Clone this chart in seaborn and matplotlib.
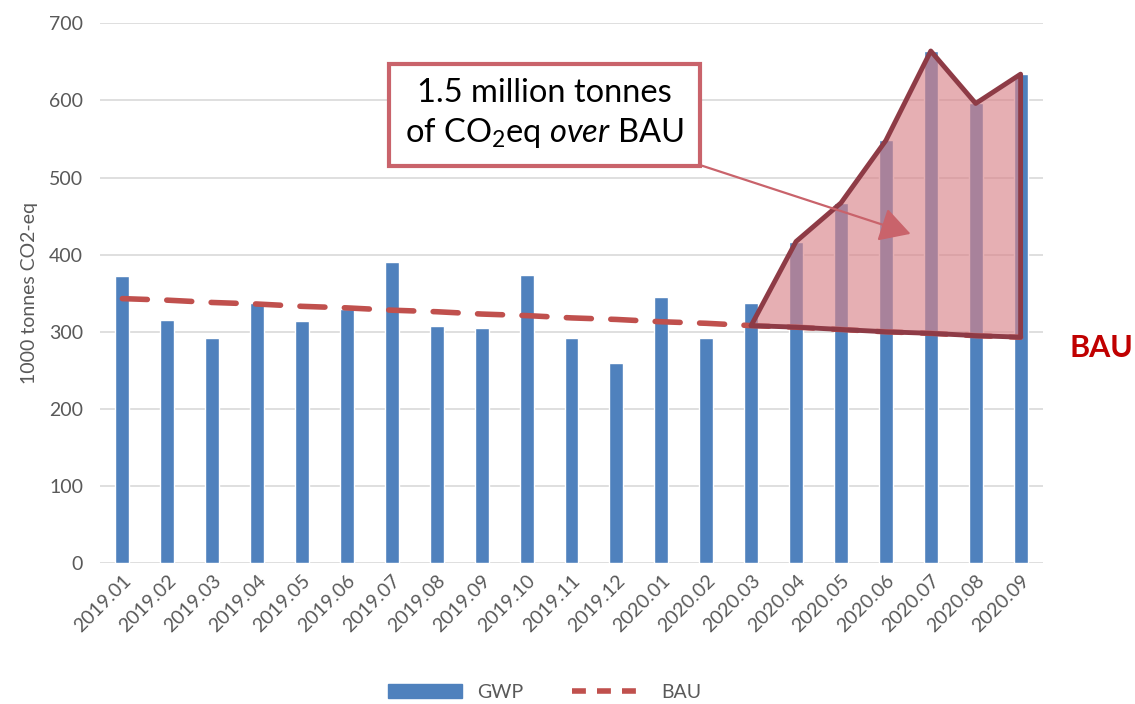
import numpy as np
import pandas as pd
import matplotlib
matplotlib.use("Agg")
import matplotlib.pyplot as plt
import seaborn as sns
from matplotlib.patches import Patch
from matplotlib.lines import Line2D

# --- data ---------------------------------------------------------------------
MONTHS = [
    "2019.01", "2019.02", "2019.03", "2019.04", "2019.05", "2019.06", "2019.07",
    "2019.08", "2019.09", "2019.10", "2019.11", "2019.12", "2020.01", "2020.02",
    "2020.03", "2020.04", "2020.05", "2020.06", "2020.07", "2020.08", "2020.09",
]
GWP = [372, 315, 292, 337, 314, 329, 390, 307, 305, 373, 292, 259, 345, 292,
       337, 417, 467, 548, 664, 596, 634]
BAU = [343, 341, 338, 336, 333, 331, 328, 326, 323, 321, 318, 316, 313, 311,
       308, 306, 303, 300, 298, 295, 293]
SHADE_FROM = "2020.03"

BLUE = "#4f81bd"
RED = "#c0504d"
GREY = "#595959"

sns.set_style("white")
plt.rcParams["font.family"] = ["Lato", "DejaVu Sans"]
plt.rcParams["mathtext.fontset"] = "custom"
plt.rcParams["mathtext.rm"] = "Lato"
plt.rcParams["mathtext.it"] = "Lato:italic"

df = pd.DataFrame({"month": MONTHS, "gwp": GWP, "bau": BAU})

fig = plt.figure(figsize=(11.35, 7.04), dpi=100)
ax = fig.add_axes([0.088, 0.2, 0.831, 0.767])

sns.barplot(data=df, x="month", y="gwp", color=BLUE, width=0.31,
            saturation=1, ax=ax, zorder=2)
x = np.arange(len(MONTHS))
ax.plot(x, df["bau"], color=RED, lw=4, dashes=(4.5, 3.5),
        solid_capstyle="round", dash_capstyle="round", zorder=3)

# shaded excess over BAU
i0 = MONTHS.index(SHADE_FROM)
xs = x[i0:]
upper = np.r_[BAU[i0], GWP[i0 + 1:]]
lower = np.array(BAU[i0:])
ax.fill_between(xs, lower, upper, color="#d9848a", alpha=0.65, lw=0, zorder=4)
poly_x = np.r_[xs, xs[::-1], xs[0]]
poly_y = np.r_[upper, lower[::-1], upper[0]]
ax.plot(poly_x, poly_y, color="#8e3b46", lw=3.5, solid_joinstyle="round", zorder=5)

ax.set_ylim(0, 700)
ax.set_xlim(-0.5, len(MONTHS) - 0.5)
ax.set_yticks(range(0, 701, 100))
ax.yaxis.grid(True, color="#d9d9d9", lw=1.2)
ax.set_axisbelow(True)
for s in ax.spines.values():
    s.set_visible(False)
ax.tick_params(axis="both", length=0, colors=GREY, labelsize=14)
ax.tick_params(axis="y", pad=12)
ax.tick_params(axis="x", pad=6)
plt.setp(ax.get_xticklabels(), rotation=45, ha="right", rotation_mode="anchor")
ax.set_xlabel("")
ax.set_ylabel("1000 tonnes CO2-eq", color=GREY, fontsize=14, labelpad=8)

# annotation box with arrow
ax.annotate("1.5 million tonnes\nof CO$_2$eq $\\mathit{over}$ BAU",
            xy=(17.55, 427), xycoords="data",
            xytext=(9.4, 582), textcoords="data",
            ha="center", va="center", fontsize=23.5, linespacing=1.3, color="black",
            bbox=dict(boxstyle="square,pad=0.5", fc="white", ec="#c9636b", lw=3),
            arrowprops=dict(arrowstyle="-|>,head_length=0.8,head_width=0.45",
                            color="#c9636b", lw=1.6, shrinkA=0, shrinkB=0),
            zorder=6)

fig.text(0.942, 0.505, "BAU", color="#c00000", fontsize=22, fontweight="bold",
         ha="left", va="center")

handles = [Patch(color=BLUE, label="GWP"),
           Line2D([0], [0], color=RED, lw=4, dashes=(2.5, 2), label="BAU")]
fig.legend(handles=handles, loc="center", bbox_to_anchor=(0.48, 0.017), ncol=2,
           frameon=False, fontsize=14, labelcolor=GREY, handlelength=3.8,
           columnspacing=2.5)

fig.savefig("out.png", dpi=100)
